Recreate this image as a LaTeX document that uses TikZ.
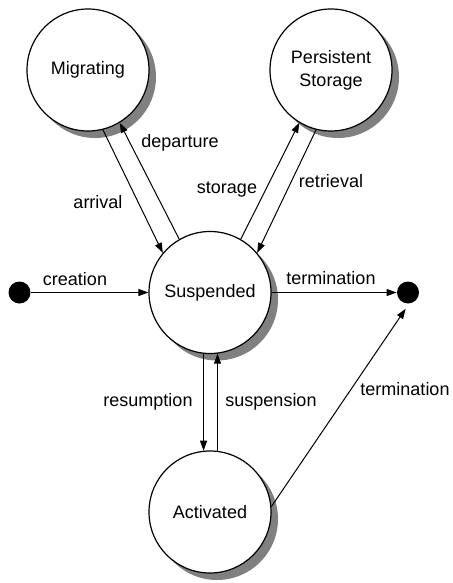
\documentclass[tikz,border=0pt]{standalone}
\usepackage{fontspec}
\setmainfont{Liberation Sans}
\usetikzlibrary{shadows,arrows.meta}

\tikzset{
  agentstate/.style={circle,draw,fill=white,line width=0.6pt,minimum size=61pt,
    inner sep=0pt,align=center,
    drop shadow={shadow xshift=3.5pt,shadow yshift=-3.5pt,fill=black!50,opacity=1}},
  pseudo/.style={circle,fill=black,minimum size=11pt,inner sep=0pt},
  trans/.style={-{Triangle[length=5pt,width=3.5pt]},line width=0.5pt},
  lbl/.style={anchor=base,inner sep=0pt},
}

\begin{document}
\begin{tikzpicture}[x=0.5pt,y=-0.5pt,font=\fontsize{9}{11.5}\selectfont]
\useasboundingbox (0,0) rectangle (452,583);

% The states of the agent
\node[agentstate] (mig) at (88,70) {Migrating};
\node[agentstate] (pers) at (331,70) {Persistent\\Storage};
\node[agentstate] (susp) at (210,292.5) {Suspended};
\node[agentstate] (act) at (210,512) {Activated};

% Birth and death
\node[pseudo] (init) at (19.5,292.5) {};
\node[pseudo] (fin) at (408,292.5) {};

% The transitions
\draw[trans] (init) -- (susp);
\draw[trans] (susp) -- (fin);
\draw[trans] (mig.-76) -- (susp.140);
\draw[trans] (susp.120) -- (mig.-59);
\draw[trans] (susp.60) -- (pers.-121);
\draw[trans] (pers.-104) -- (susp.40);
\draw[trans] (susp.-96.6) -- (act.96.6);
\draw[trans] (act.83.4) -- (susp.-83.4);
\draw[trans,shorten >=3pt] (act.5) -- (fin.-85);

% The labels
\node[lbl] (lcreation) at (75,285) {creation};
\node[lbl] (lterm) at (331,284) {termination};
\node[lbl] (larrival) at (98,208) {arrival};
\node[lbl] (ldeparture) at (180,148) {departure};
\node[lbl] (lstorage) at (227,193) {storage};
\node[lbl] (lretrieval) at (331,187) {retrieval};
\node[lbl] (lresumption) at (148,406) {resumption};
\node[lbl] (lsuspension) at (271,406) {suspension};
\node[lbl] (ltermact) at (405,395) {termination};

\end{tikzpicture}
\end{document}
